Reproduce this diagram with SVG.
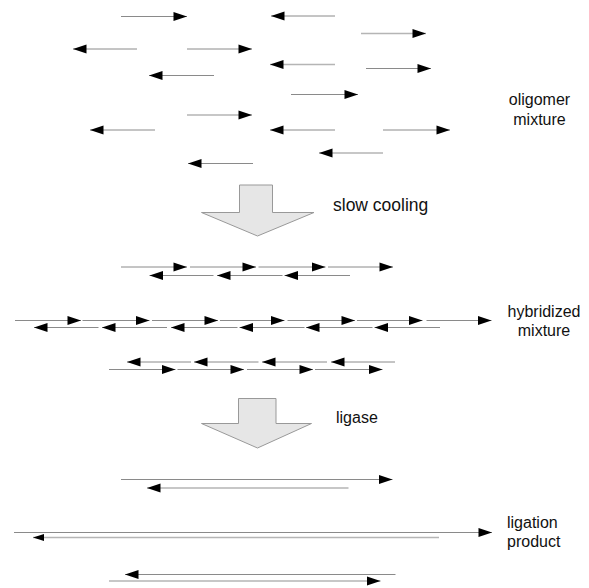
<svg xmlns="http://www.w3.org/2000/svg" width="589" height="588" viewBox="0 0 589 588">
<style>
.a{stroke:#8a8a8a;stroke-width:1;fill:none;marker-end:url(#h)}
.b{stroke:#b5b5b5;stroke-width:1.6;fill:none;marker-end:url(#h)}
.s{stroke:#b5b5b5;stroke-width:1.6;fill:none;marker-end:url(#hs)}
.big{fill:#e6e6e6;stroke:#999;stroke-width:1}
text{font-family:"Liberation Sans",Arial,sans-serif;font-size:16px;fill:#111}
.lg{font-size:17.5px}
</style>
<defs>
<marker id="h" markerUnits="userSpaceOnUse" markerWidth="15" markerHeight="10" refX="13.5" refY="4.5" orient="auto" overflow="visible">
<path d="M0,0 L13.5,4.5 L0,9 Z" fill="#000"/>
</marker>
<marker id="hs" markerUnits="userSpaceOnUse" markerWidth="12" markerHeight="8" refX="11" refY="3.5" orient="auto" overflow="visible">
<path d="M0,0 L11,3.5 L0,7 Z" fill="#000"/>
</marker>
</defs>
<g id="oligomer-mixture">
<line class="a" x1="121" y1="16.5" x2="187" y2="16.5"/>
<line class="a" x1="335" y1="16" x2="271" y2="16"/>
<line class="b" x1="361" y1="33.5" x2="426" y2="33.5"/>
<line class="a" x1="137" y1="49" x2="73" y2="49"/>
<line class="a" x1="187" y1="49" x2="252" y2="49"/>
<line class="b" x1="335" y1="64.5" x2="270" y2="64.5"/>
<line class="a" x1="366" y1="68.5" x2="431" y2="68.5"/>
<line class="a" x1="214" y1="75.5" x2="149" y2="75.5"/>
<line class="a" x1="291" y1="94.5" x2="358" y2="94.5"/>
<line class="b" x1="187" y1="115" x2="252" y2="115"/>
<line class="a" x1="155" y1="130" x2="90" y2="130"/>
<line class="a" x1="335" y1="130" x2="270" y2="130"/>
<line class="a" x1="383" y1="130" x2="450" y2="130"/>
<line class="b" x1="383" y1="153" x2="319" y2="153"/>
<line class="a" x1="253" y1="163.5" x2="188" y2="163.5"/>
<text x="539.5" y="105" text-anchor="middle">oligomer</text>
<text x="539.5" y="124.5" text-anchor="middle">mixture</text>
</g>
<g id="hybridized-mixture">
<line class="a" x1="121" y1="267" x2="187" y2="267"/>
<line class="a" x1="190" y1="267" x2="256" y2="267"/>
<line class="a" x1="258.5" y1="267" x2="325.5" y2="267"/>
<line class="a" x1="328" y1="267" x2="393" y2="267"/>
<line class="a" x1="213.5" y1="275.5" x2="149.5" y2="275.5"/>
<line class="a" x1="282.5" y1="275.5" x2="217" y2="275.5"/>
<line class="a" x1="350" y1="275.5" x2="284.5" y2="275.5"/>
<line class="a" x1="15" y1="320.5" x2="81" y2="320.5"/>
<line class="a" x1="82.5" y1="320.5" x2="149.5" y2="320.5"/>
<line class="a" x1="152" y1="320.5" x2="218" y2="320.5"/>
<line class="a" x1="220" y1="320.5" x2="284.5" y2="320.5"/>
<line class="a" x1="287.5" y1="320.5" x2="355" y2="320.5"/>
<line class="a" x1="357" y1="320.5" x2="422.5" y2="320.5"/>
<line class="a" x1="426.5" y1="320.5" x2="491.5" y2="320.5"/>
<line class="a" x1="98.5" y1="327.5" x2="34" y2="327.5"/>
<line class="a" x1="167" y1="327.5" x2="102" y2="327.5"/>
<line class="a" x1="237.5" y1="327.5" x2="171" y2="327.5"/>
<line class="a" x1="304.5" y1="327.5" x2="239.5" y2="327.5"/>
<line class="a" x1="372.5" y1="327.5" x2="306" y2="327.5"/>
<line class="a" x1="440" y1="327.5" x2="374.5" y2="327.5"/>
<line class="a" x1="191" y1="362" x2="127" y2="362"/>
<line class="a" x1="258.5" y1="362" x2="194" y2="362"/>
<line class="a" x1="327" y1="362" x2="262" y2="362"/>
<line class="a" x1="395" y1="362" x2="331" y2="362"/>
<line class="a" x1="109" y1="369.5" x2="175.5" y2="369.5"/>
<line class="a" x1="177.5" y1="369.5" x2="244" y2="369.5"/>
<line class="a" x1="247" y1="369.5" x2="313" y2="369.5"/>
<line class="a" x1="315" y1="369.5" x2="382.5" y2="369.5"/>
<text x="544" y="316.5" text-anchor="middle">hybridized</text>
<text x="544" y="336" text-anchor="middle">mixture</text>
</g>
<g id="ligation-product">
<line class="a" x1="121" y1="479.5" x2="392.5" y2="479.5"/>
<line class="b" x1="348.5" y1="488" x2="147" y2="488"/>
<line class="a" x1="14" y1="532.5" x2="492" y2="532.5"/>
<line class="s" x1="439" y1="537.5" x2="33" y2="537.5"/>
<line class="a" x1="395.5" y1="574.5" x2="125" y2="574.5"/>
<line class="b" x1="109" y1="581" x2="380.5" y2="581"/>
<text x="507" y="528">ligation</text>
<text x="507" y="547">product</text>
</g>
<g id="connectors">
<g id="step-slow-cooling">
<polygon class="big" points="239.5,185 272.5,185 272.5,212.5 314,212.5 257.5,236 201.5,212.5 239.5,212.5"/>
<text class="lg" x="333" y="210.5">slow cooling</text>
</g>
<g id="step-ligase">
<polygon class="big" points="238.5,398.5 276,398.5 276,423.5 311.5,423.5 257.5,448 201.5,423.5 238.5,423.5"/>
<text x="336" y="423">ligase</text>
</g>
</g>
</svg>
